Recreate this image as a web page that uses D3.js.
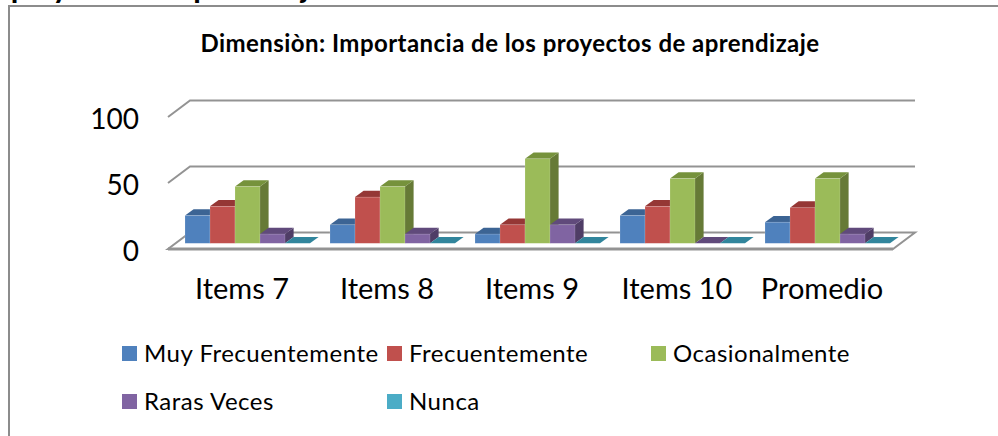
<!doctype html>
<html lang="es">
<head>
<meta charset="utf-8">
<title>Dimensiòn: Importancia de los proyectos de aprendizaje</title>
<script src="https://cdnjs.cloudflare.com/ajax/libs/d3/7.8.5/d3.min.js"></script>
<style>
  html, body { margin: 0; padding: 0; background: #fff; overflow: hidden; }
  svg { display: block; }
  text { font-family: Lato, "Open Sans", sans-serif; fill: #000; }
  .axis .domain, .axis line { display: none; }
  .axis text { font-family: Lato, "Open Sans", sans-serif; fill: #000; }
</style>
</head>
<body>
<script>
// Data
var categories = ["Items 7", "Items 8", "Items 9", "Items 10", "Promedio"];
var seriesNames = ["Muy Frecuentemente", "Frecuentemente", "Ocasionalmente", "Raras Veces", "Nunca"];
var muyFrecuentemente = [21, 14, 7, 21, 16];
var frecuentemente = [28, 35, 14, 28, 27];
var ocasionalmente = [43, 43, 64, 49, 49];
var rarasVeces = [7, 7, 14, 0, 7];
var nunca = [0, 0, 0, 0, 0];
var seriesValues = [muyFrecuentemente, frecuentemente, ocasionalmente, rarasVeces, nunca];
var yTicks = [0, 50, 100];

// Graphics
var width = 998, height = 436;
var front = ["#4f81bd", "#c0504d", "#9bbb59", "#8064a2", "#4bacc6"];
var tops = ["#3c6494", "#953735", "#76923c", "#604a7b", "#31859c"];
var sides = ["#33557f", "#7f2f2d", "#667a36", "#4f3d66", "#2a7085"];
var wall = {dx: 22, dy: 16.5, left: 168, right: 893};
var barDepth = {dx: 8.6, dy: 6.3};

var svg = d3.select("body").append("svg")
  .attr("width", width)
  .attr("height", height);

// Heading of the page behind the chart, cut off by the crop
svg.append("text")
  .attr("x", 11)
  .attr("y", -2)
  .attr("font-size", 28)
  .attr("font-weight", 900)
  .text("proyectos de aprendizaje");

// Frame
svg.append("path")
  .attr("d", "M9,436V6H998")
  .attr("fill", "none")
  .attr("stroke", "#8c8c8c")
  .attr("stroke-width", 2);

svg.append("text")
  .attr("x", 510)
  .attr("y", 52)
  .attr("text-anchor", "middle")
  .attr("font-size", 24)
  .attr("letter-spacing", 0.45)
  .attr("font-weight", 700)
  .text("Dimensiòn: Importancia de los proyectos de aprendizaje");

// Scales
var xScale = d3.scaleBand()
  .domain(categories)
  .range([175, 900])
  .paddingInner(20 / 145)
  .paddingOuter(10 / 145);

var seriesScale = d3.scaleBand()
  .domain(d3.range(seriesNames.length))
  .range([0, xScale.bandwidth()]);

// value on the front edge of the floor (where the tick labels sit)
var yScale = d3.scaleLinear().domain([0, 100]).range([249, 117]);
// value on the plane the bars stand on
var barScale = d3.scaleLinear().domain([0, 100]).range([243.3, 111.3]);

// Walls and floor
var lineGen = d3.line();
var gridColor = "#939393";

yTicks.filter(function(d) { return d > 0; }).forEach(function(t) {
  var y = yScale(t);
  svg.append("path")
    .attr("d", lineGen([[wall.left, y], [wall.left + wall.dx, y - wall.dy], [wall.right + wall.dx, y - wall.dy]]))
    .attr("fill", "none")
    .attr("stroke", gridColor)
    .attr("stroke-width", 2);
});

var y0 = yScale(0);
svg.append("path")
  .attr("d", lineGen([[wall.left, y0], [wall.right, y0], [wall.right + wall.dx, y0 - wall.dy], [wall.left + wall.dx, y0 - wall.dy]]) + "Z")
  .attr("fill", "#fff")
  .attr("stroke", gridColor)
  .attr("stroke-width", 2);
svg.append("path")
  .attr("d", lineGen([[wall.left, y0], [wall.right, y0]]))
  .attr("stroke", gridColor)
  .attr("stroke-width", 3);

// Bars
categories.forEach(function(cat, c) {
  var g = svg.append("g").attr("class", "category");
  var x0 = xScale(cat);
  seriesValues.forEach(function(values, s) {
    var v = values[c];
    var l = x0 + seriesScale(s), r = l + seriesScale.bandwidth();
    var t = barScale(v), b = barScale(0);
    var dx = barDepth.dx, dy = barDepth.dy;
    if (v > 0) {
      g.append("path")
        .attr("d", lineGen([[r, t], [r + dx, t - dy], [r + dx, b - dy], [r, b]]) + "Z")
        .attr("fill", sides[s]);
    }
    g.append("path")
      .attr("d", lineGen([[l, t], [l + dx, t - dy], [r + dx, t - dy], [r, t]]) + "Z")
      .attr("fill", tops[s]);
    if (v > 0) {
      g.append("rect")
        .attr("x", l)
        .attr("y", t)
        .attr("width", r - l)
        .attr("height", b - t)
        .attr("fill", front[s])
        .attr("stroke", "#fff")
        .attr("stroke-opacity", 0.25)
        .attr("stroke-width", 0.6);
    }
  });
});

// Axis
var yAxis = d3.axisLeft(yScale).tickValues(yTicks).tickSize(0).tickPadding(0);
svg.append("g")
  .attr("class", "axis y")
  .attr("transform", "translate(139,3)")
  .call(yAxis)
  .attr("font-size", 28);

var xAxis = d3.axisBottom(xScale).tickSize(0).tickPadding(0);
svg.append("g")
  .attr("class", "axis x")
  .attr("transform", "translate(-5.5,278)")
  .call(xAxis)
  .attr("font-size", 29);

// Legend
var legendX = [122, 387, 651];
var legendY = [346, 394];
seriesNames.forEach(function(name, i) {
  var col = i % 3, row = Math.floor(i / 3);
  var g = svg.append("g")
    .attr("transform", "translate(" + legendX[col] + "," + legendY[row] + ")");
  g.append("rect")
    .attr("width", 15)
    .attr("height", 15)
    .attr("fill", front[i]);
  g.append("text")
    .attr("x", 22)
    .attr("y", 16)
    .attr("font-size", 24)
    .attr("letter-spacing", 0.5)
    .text(name);
});
</script>
</body>
</html>
